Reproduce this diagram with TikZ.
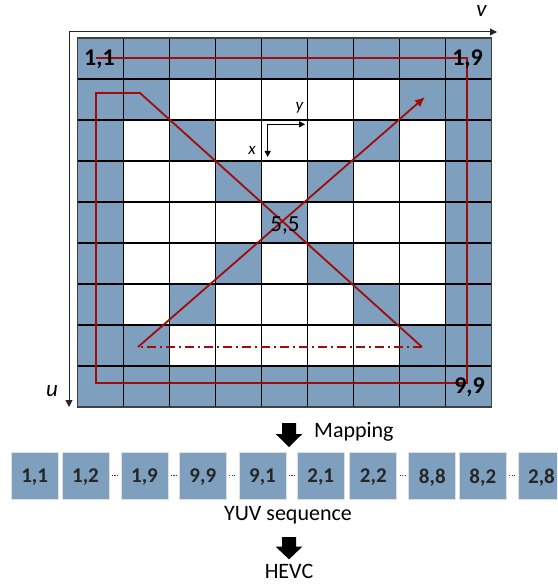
\documentclass[tikz,border=0pt]{standalone}
\usepackage{fontspec}
\setmainfont{Carlito}
\usetikzlibrary{arrows.meta, positioning, calc}
\definecolor{celdaazul}{HTML}{7F9FBF}
\definecolor{rutarojo}{HTML}{A00C0C}
\definecolor{textogris}{HTML}{262626}

\begin{document}
\begin{tikzpicture}[x=1pt, y=-1pt,
    celda/.style={fill=celdaazul},
    rejilla/.style={draw=black, line width=1.1pt},
    ruta/.style={draw=rutarojo, line width=1.8pt},
    eje/.style={draw=black!85, line width=1pt, -{Triangle[length=7pt,width=7pt]}},
    ejexy/.style={draw=black, line width=1pt, -{Triangle[length=6pt,width=6pt]}},
    etiq/.style={font=\fontsize{24}{28}\selectfont\bfseries, inner sep=0pt, anchor=base},
    letra/.style={font=\fontsize{23}{27}\selectfont\itshape, inner sep=0pt, anchor=base},
    bloque/.style={fill=celdaazul, draw=black!12, line width=0.8pt, minimum size=47pt,
      inner sep=0pt, text depth=0pt, font=\fontsize{21}{25}\selectfont\bfseries, text=textogris},
    puntos/.style={draw=rutarojo, line width=1.2pt, dash pattern=on 1.2pt off 1.2pt,
      shorten <=2.5pt, shorten >=2.5pt},
    texto/.style={font=\fontsize{22}{26}\selectfont, inner sep=0pt, anchor=base}]
  \clip (0,0) rectangle (557,588);
  % Celdas sombreadas: borde y diagonales
  \foreach \f in {1,...,9}{
    \foreach \c in {1,...,9}{
      \pgfmathtruncatemacro{\marca}{(\f==1)||(\f==9)||(\c==1)||(\c==9)||(\f==\c)||(\f+\c==10)}
      \ifnum\marca=1
        \fill[celda] (77.5+46*\c-46, 38+41*\f-41) rectangle ++(46,41);
      \fi
    }
  }
  % Rejilla 9x9
  \foreach \k in {0,...,9}{
    \draw[rejilla] (77.5+46*\k, 38) -- (77.5+46*\k, 407);
    \draw[rejilla] (77.5, 38+41*\k) -- (491.5, 38+41*\k);
  }
  \draw[draw=black!75, line width=1.5pt] (77.5,38) rectangle (491.5,407);
  % Ejes u, v
  \coordinate (origen) at (69,32);
  \coordinate (finV) at (497,32);
  \coordinate (finU) at (69,407);
  \draw[eje] (origen) -- (finV);
  \draw[eje] (origen) -- (finU);
  \node[letra] (ejeV) at (481.5,17) {v};
  \node[letra] (ejeU) at (52,396.5) {u};
  % Ejes x, y del bloque
  \coordinate (origenXY) at (267.7,124.3);
  \coordinate (finY) at (305,124.3);
  \coordinate (finX) at (267.7,157);
  \draw[ejexy] (origenXY) -- (finY);
  \draw[ejexy] (origenXY) -- (finX);
  \node[letra, font=\fontsize{17}{20}\selectfont\itshape] (ejeY) at (299.5,111) {y};
  \node[letra, font=\fontsize{17}{20}\selectfont\itshape] (ejeX) at (252,154) {x};
  % Recorrido de barrido
  \coordinate (diagA) at (140,93);
  \coordinate (diagB) at (422,347);
  \coordinate (diagC) at (138,347);
  \coordinate (diagD) at (425,97);
  \draw[ruta] (96,58) -- (467,58) -- (467,383) -- (96,383) -- (96,93) -- (diagA) -- (diagB);
  \draw[ruta, dash pattern=on 9pt off 4pt on 2pt off 4pt] (diagB) -- (diagC);
  \draw[ruta, -{Latex[length=10pt,width=9pt]}] (diagC) -- (diagD);
  % Etiquetas de la rejilla
  \node[etiq] (l11) at (99.5,66) {1,1};
  \node[etiq] (l19) at (467.5,66) {1,9};
  \node[etiq] (l99) at (469.5,393) {9,9};
  \node[etiq, font=\fontsize{23}{27}\selectfont] (l55) at (285,231.7) {5,5};
  % Flecha de mapeo
  \fill[black] (282,423) -- (296,423) -- (296,434) -- (302.3,434) -- (289,447)
    -- (275.7,434) -- (282,434) -- cycle;
  \node[texto, anchor=base west] (mapeo) at (314,437) {Mapping};
  % Secuencia YUV
  \foreach \px/\lbl [count=\i] in {34.7/{1,1}, 85.5/{1,2}, 144.5/{1,9}, 202.8/{9,9},
      262.5/{9,1}, 320.7/{2,1}, 373.3/{2,2}, 432.3/{8,8}, 482.8/{8,2}, 541.5/{2,8}}
    \node[bloque] (s\i) at (\px,475.8) {\lbl};
  \foreach \a/\b in {s2/s3, s3/s4, s4/s5, s5/s6, s7/s8, s9/s10}
    \draw[puntos] (\a.east) -- (\b.west);
  \node[texto] (yuv) at (288,520) {YUV sequence};
  % Flecha a HEVC
  \fill[black] (282,537) -- (296,537) -- (296,546.7) -- (302.3,546.7) -- (289,559.3)
    -- (275.7,546.7) -- (282,546.7) -- cycle;
  \node[texto] (hevc) at (289,578) {HEVC};
\end{tikzpicture}
\end{document}
